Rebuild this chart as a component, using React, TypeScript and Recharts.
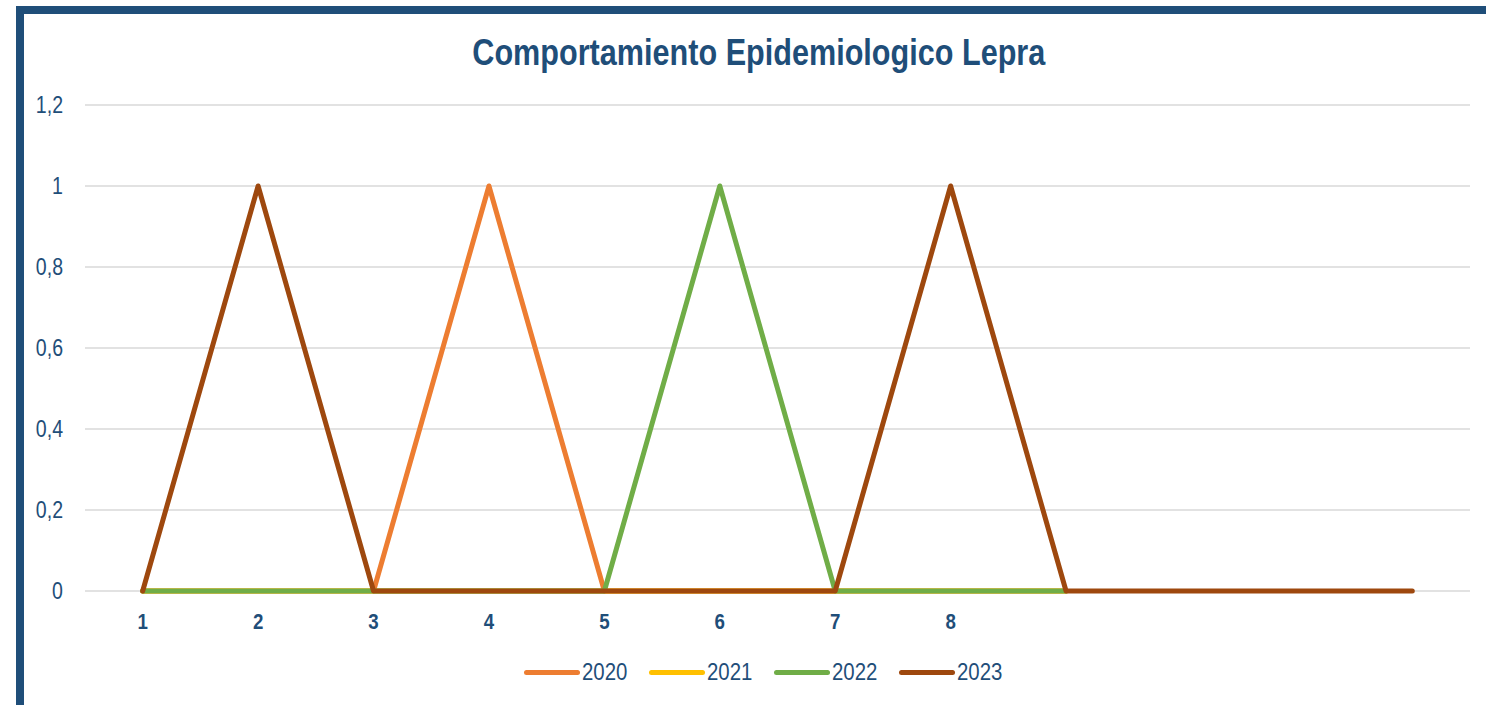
import React from 'react';
import { LineChart, Line, XAxis, YAxis, CartesianGrid, Legend } from 'recharts';

const xLabels = ['1', '2', '3', '4', '5', '6', '7', '8', '', '', '', ''];
const v2020 = [0, 0, 0, 1, 0, 0, 0, 0, 0, null, null, null];
const v2021 = [0, 0, 0, 0, 0, 0, 0, 0, 0, null, null, null];
const v2022 = [0, 0, 0, 0, 0, 1, 0, 0, 0, null, null, null];
const v2023 = [0, 1, 0, 0, 0, 0, 0, 1, 0, 0, 0, 0];
const yTicks = [0, 0.2, 0.4, 0.6, 0.8, 1, 1.2];

const series = [
  { key: 'y2020', name: '2020', color: '#ED7D31' },
  { key: 'y2021', name: '2021', color: '#FFC000' },
  { key: 'y2022', name: '2022', color: '#70AD47' },
  { key: 'y2023', name: '2023', color: '#9E480E' },
];

const data = xLabels.map((label, i) => ({
  label,
  y2020: v2020[i],
  y2021: v2021[i],
  y2022: v2022[i],
  y2023: v2023[i],
}));

const navy = '#1F4E79';
const font = "'Liberation Sans', Arial, sans-serif";
// no narrow font installed, so squeeze the regular one
const squeeze = 0.85;

function XTick(props: any) {
  const { x, y, payload } = props;
  return (
    <g transform={`translate(${x},${y})`}>
      <text transform={`scale(${squeeze},1)`} textAnchor="middle" dy="0.71em" fill={navy} fontSize={22} fontWeight="bold" fontFamily={font}>
        {payload.value}
      </text>
    </g>
  );
}

function YTick(props: any) {
  const { x, y, payload } = props;
  return (
    <g transform={`translate(${x},${y})`}>
      <text transform={`scale(${squeeze},1)`} textAnchor="end" dy="0.355em" fill={navy} fontSize={23} fontFamily={font}>
        {String(payload.value).replace('.', ',')}
      </text>
    </g>
  );
}

function LegendContent() {
  return (
    <div style={{ display: 'flex', justifyContent: 'center', alignItems: 'center', height: 30, paddingLeft: 54 }}>
      {series.map((s) => (
        <div key={s.key} style={{ display: 'flex', alignItems: 'center', marginRight: 23 }}>
          <span style={{ width: 56, height: 5, borderRadius: 3, background: s.color, display: 'inline-block', marginRight: 2 }} />
          <span style={{ width: 44, display: 'inline-block', whiteSpace: 'nowrap' }}>
            <span
              style={{
                display: 'inline-block',
                transform: `scaleX(${squeeze})`,
                transformOrigin: 'left center',
                fontFamily: font,
                fontSize: 24,
                color: navy,
              }}
            >
              {s.name}
            </span>
          </span>
        </div>
      ))}
    </div>
  );
}

export default function App() {
  return (
    <div
      style={{
        position: 'absolute',
        left: 16,
        top: 6,
        width: 1470,
        height: 699,
        borderLeft: `8px solid ${navy}`,
        borderTop: `8px solid ${navy}`,
        background: '#fff',
        boxSizing: 'border-box',
        overflow: 'hidden',
      }}
    >
      <div
        style={{
          position: 'absolute',
          left: -7,
          width: 1486,
          top: 18,
          textAlign: 'center',
          fontFamily: font,
          fontWeight: 'bold',
          fontSize: 36,
          color: navy,
          transform: `scaleX(${squeeze})`,
          transformOrigin: '735px 0',
        }}
      >
        Comportamiento Epidemiologico Lepra
      </div>
      <LineChart
        width={1462}
        height={691}
        data={data}
        margin={{ top: 91, right: 16, bottom: 18, left: 0 }}
      >
        <CartesianGrid vertical={false} stroke="#D9D9D9" strokeWidth={1.5} />
        <XAxis
          dataKey="label"
          axisLine={false}
          tickLine={false}
          interval={0}
          height={66}
          tickMargin={16}
          padding={{ left: 57.7, right: 57.7 }}
          tick={<XTick />}
        />
        <YAxis
          domain={[0, 1.2]}
          ticks={yTicks}
          width={61}
          axisLine={false}
          tickLine={false}
          tickMargin={16}
          tick={<YTick />}
        />
        <Legend verticalAlign="bottom" height={30} content={<LegendContent />} />
        {series.map((s) => (
          <Line
            key={s.key}
            type="linear"
            dataKey={s.key}
            name={s.name}
            stroke={s.color}
            strokeWidth={5}
            strokeLinecap="round"
            strokeLinejoin="round"
            dot={false}
            activeDot={false}
            isAnimationActive={false}
          />
        ))}
      </LineChart>
    </div>
  );
}
